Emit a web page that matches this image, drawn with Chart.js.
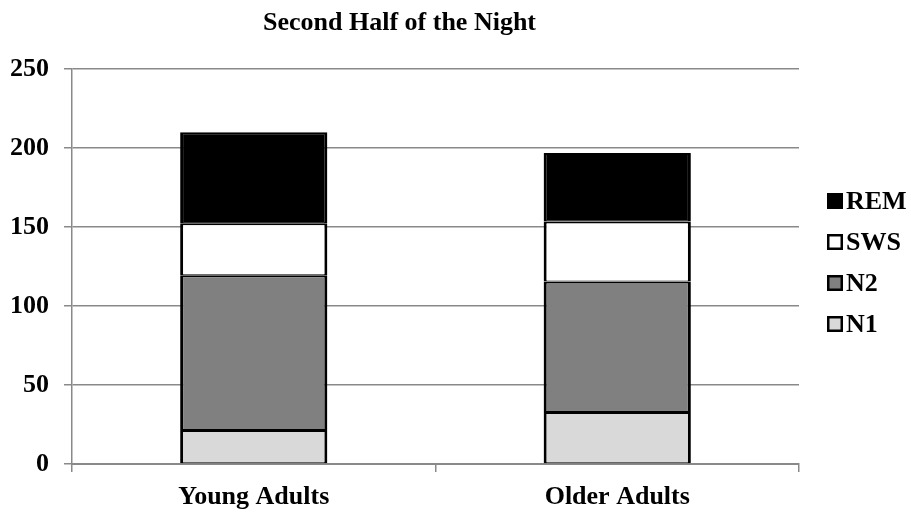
<!DOCTYPE html>
<html><head><meta charset="utf-8">
<script src="https://cdn.jsdelivr.net/npm/chart.js@4/dist/chart.umd.min.js"></script>
<style>html,body{margin:0;padding:0;background:#fff;}#wrap{width:911px;height:515px;position:relative;}</style>
</head><body><div id="wrap"><canvas id="c" width="911" height="515"></canvas></div>
<script>
const chartTitle = 'Second Half of the Night';
const categories = ['Young Adults', 'Older Adults'];
const seriesNames = ['N1', 'N2', 'SWS', 'REM'];
const n1 = [21.5, 33];
const n2 = [98, 82.5];
const sws = [33, 38];
const rem = [57.5, 43.5];
const yTicks = [0, 50, 100, 150, 200, 250];
const fills = ['#d9d9d9', '#808080', '#ffffff', '#000000'];

const FONT = '"Liberation Serif", "Times New Roman", serif';
const GRID = '#898989';

const seriesValues = [n1, n2, sws, rem];
const datasets = seriesNames.map((name, i) => ({
  label: name,
  data: seriesValues[i],
  backgroundColor: fills[i],
  borderColor: '#000000',
  borderWidth: {left: 3, right: 3, top: 2, bottom: 1},
  borderSkipped: false,
  barPercentage: 0.405,
  categoryPercentage: 1.0
}));

const sideLegend = {
  id: 'sideLegend',
  afterDraw(chart) {
    const ctx = chart.ctx;
    const ds = chart.data.datasets.slice().reverse();
    const spacing = 41, box = 16;
    const cy = (chart.chartArea.top + chart.chartArea.bottom) / 2 - 4;
    const x0 = 827;
    ctx.save();
    ctx.font = 'bold 26px ' + FONT;
    ctx.textBaseline = 'middle';
    ctx.textAlign = 'left';
    ds.forEach((d, i) => {
      const y = Math.round(cy + (i - (ds.length - 1) / 2) * spacing);
      ctx.fillStyle = d.backgroundColor;
      ctx.fillRect(x0, y - box / 2, box, box);
      ctx.lineWidth = 2.5;
      ctx.strokeStyle = '#000';
      ctx.strokeRect(x0 + 1.25, y - box / 2 + 1.25, box - 2.5, box - 2.5);
      ctx.fillStyle = '#000';
      ctx.fillText(d.label, x0 + box + 3, y + 1);
    });
    ctx.restore();
  }
};

new Chart(document.getElementById('c'), {
  type: 'bar',
  data: { labels: categories, datasets },
  options: {
    responsive: false,
    animation: false,
    devicePixelRatio: 1,
    layout: { padding: { left: 0, right: 112, top: 0, bottom: 2 } },
    plugins: {
      legend: { display: false },
      tooltip: { enabled: false },
      title: {
        display: true,
        text: chartTitle,
        color: '#000',
        font: { family: FONT, size: 26, weight: 'bold' },
        padding: { top: 8, bottom: 30 }
      }
    },
    scales: {
      x: {
        stacked: true,
        offset: true,
        afterFit: (s) => { s.height = 49; },
        grid: { drawOnChartArea: false, color: GRID, lineWidth: 1.5, tickLength: 8, offset: true },
        border: { color: GRID, width: 2 },
        ticks: { color: '#000', font: { family: FONT, size: 26, weight: 'bold' }, padding: 10, maxRotation: 0 }
      },
      y: {
        stacked: true,
        min: 0,
        max: 250,
        afterBuildTicks: (s) => { s.ticks = yTicks.map(v => ({ value: v })); },
        afterFit: (s) => { s.width = 72; },
        grid: { color: GRID, lineWidth: 1.5, tickLength: 8 },
        border: { color: GRID, width: 1.5 },
        ticks: { color: '#000', font: { family: FONT, size: 26, weight: 'bold' }, padding: 15 }
      }
    }
  },
  plugins: [sideLegend]
});
</script>
</body></html>
